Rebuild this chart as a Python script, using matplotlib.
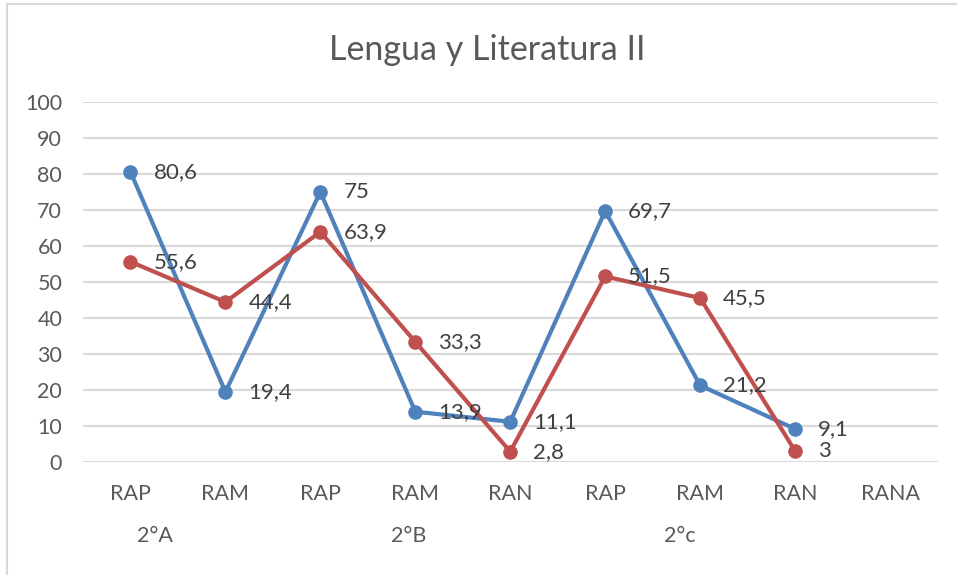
import matplotlib
matplotlib.use('Agg')
from matplotlib import pyplot as plt
from matplotlib.patches import Rectangle
from matplotlib import transforms

# data
categories = ['RAP', 'RAM', 'RAP', 'RAM', 'RAN', 'RAP', 'RAM', 'RAN', 'RANA']
groups = ['2°A', '2°B', '2°c']
group_pos = [0.26, 2.93, 5.79]
blue_values = [80.6, 19.4, 75, 13.9, 11.1, 69.7, 21.2, 9.1]
red_values = [55.6, 44.4, 63.9, 33.3, 2.8, 51.5, 45.5, 3]
y_ticks = [0, 10, 20, 30, 40, 50, 60, 70, 80, 90, 100]

BLUE = '#4F81BD'
RED = '#C0504D'
GRID = '#D9D9D9'
TXT = '#595959'
LBL = '#404040'

plt.rcParams['font.family'] = ['Lato', 'DejaVu Sans']

W, H = 957, 575
fig = plt.figure(figsize=(W / 100, H / 100), dpi=100)
ax = fig.add_axes([83 / W, (H - 461.7) / H, (937.5 - 83) / W, (461.7 - 102) / H])

# outer chart border (right and bottom edges fall outside the image)
fig.patches.append(Rectangle((7 / W, -0.1), 1.2, (H - 4) / H + 0.1, transform=fig.transFigure,
                             fill=False, edgecolor=GRID, linewidth=1.5))

for vals, col in [(blue_values, BLUE), (red_values, RED)]:
    x = list(range(len(vals)))
    ax.plot(x, vals, color=col, linewidth=3, marker='o', markersize=9.5, zorder=3)
    for xi, v in zip(x, vals):
        ax.annotate(f'{v:g}'.replace('.', ','), (xi, v), xytext=(16.5, 0), textcoords='offset points',
                    va='center', ha='left', fontsize=16, color=LBL, zorder=4)

ax.set_xlim(-0.5, len(categories) - 0.5)
ax.set_ylim(0, 100)
ax.set_yticks(y_ticks)
ax.set_xticks(range(len(categories)))
ax.set_xticklabels(categories)
ax.tick_params(axis='both', length=0, labelsize=15.5, labelcolor=TXT)
ax.tick_params(axis='y', pad=15)
ax.tick_params(axis='x', pad=16)
ax.grid(axis='y', color=GRID, linewidth=1.5)
ax.set_axisbelow(True)
for s in ax.spines.values():
    s.set_visible(False)

trans = transforms.blended_transform_factory(ax.transData, fig.transFigure)
for g, p in zip(groups, group_pos):
    ax.text(p, (H - 536) / H, g, transform=trans, ha='center', va='center', fontsize=15.5, color=TXT)

fig.text(487 / W, (H - 50) / H, 'Lengua y Literatura II', ha='center', va='center', fontsize=24.5, color=TXT)

fig.savefig('out.png', dpi=100)
